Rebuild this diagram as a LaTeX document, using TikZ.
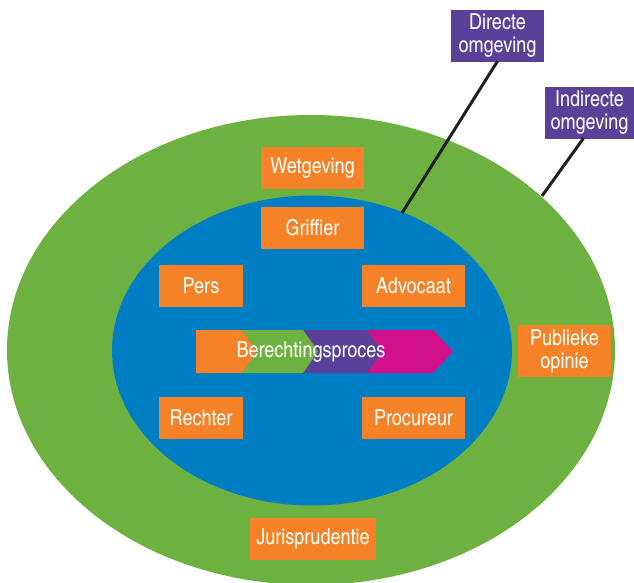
\documentclass[tikz,border=0pt]{standalone}
\usepackage{fontspec}
\setmainfont{texgyreheroscn-regular.otf}
\begin{document}
\definecolor{ringgreen}{RGB}{109,178,64}
\definecolor{corebl}{RGB}{0,126,196}
\definecolor{boxorange}{RGB}{245,130,38}
\definecolor{labelpurple}{RGB}{90,64,152}
\definecolor{stepmagenta}{RGB}{210,16,138}
\definecolor{leader}{RGB}{35,31,32}
\begin{tikzpicture}[x=1pt,y=-1pt,
  actor/.style={fill=boxorange,text=white,inner sep=0pt,minimum height=42pt,
    font=\fontsize{22}{23}\selectfont,align=center},
  zone/.style={fill=labelpurple,text=white,inner sep=0pt,minimum height=52pt,
    font=\fontsize{22}{23}\selectfont,align=center},
  leaderline/.style={draw=leader,line width=3pt}]
\useasboundingbox (0,0) rectangle (634,583);

% indirect and direct environment
\fill[ringgreen] (311,350) ellipse [x radius=304, y radius=235];
\fill[corebl] (312,350.5) ellipse [x radius=200, y radius=155];

% process arrow built from four chevrons
\fill[stepmagenta] (367,330) -- (433,330) -- (453,351.5) -- (433,373) -- (367,373) -- (382,351.5) -- cycle;
\fill[labelpurple] (303,330) -- (367,330) -- (382,351.5) -- (367,373) -- (303,373) -- (318,351.5) -- cycle;
\fill[ringgreen] (242,330) -- (303,330) -- (318,351.5) -- (303,373) -- (242,373) -- (257,351.5) -- cycle;
\fill[boxorange] (196,330) -- (242,330) -- (257,351.5) -- (242,373) -- (196,373) -- cycle;
\node[text=white,font=\fontsize{22}{23}\selectfont,inner sep=0pt] (proc) at (311,352) {Berechtingsproces};

% actors
\node[actor,minimum width=103pt] (wet) at (312.5,168) {Wetgeving};
\node[actor,minimum width=103pt] (grif) at (312.5,228) {Griffier};
\node[actor,minimum width=84pt] (pers) at (201,286) {Pers};
\node[actor,minimum width=103pt] (adv) at (413.5,286) {Advocaat};
\node[actor,minimum width=84pt] (rech) at (201,418) {Rechter};
\node[actor,minimum width=103pt] (proc2) at (413.5,418) {Procureur};
\node[actor,minimum width=93pt,minimum height=52pt] (pub) at (564.5,351) {Publieke\\opinie};
\node[actor,minimum width=126pt] (jur) at (313,538.5) {Jurisprudentie};

% environment labels with leader lines
\node[zone,minimum width=93pt] (dir) at (497.5,36) {Directe\\omgeving};
\node[zone,minimum width=89pt] (ind) at (589.5,113) {Indirecte\\omgeving};
\coordinate (dirend) at (402,213);
\coordinate (indend) at (542,196);
\draw[leaderline] (dir.south) ++(0,-1) -- (dirend);
\draw[leaderline] (ind.south) ++(-6,-1) -- (indend);
\end{tikzpicture}
\end{document}
